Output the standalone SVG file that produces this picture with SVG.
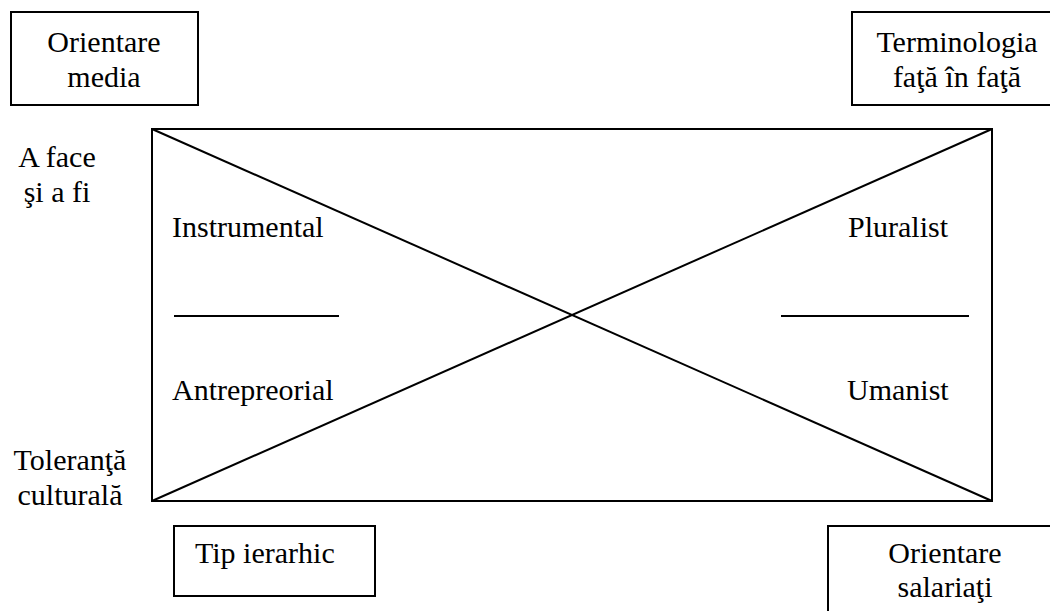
<svg xmlns="http://www.w3.org/2000/svg" width="1050" height="611" viewBox="0 0 1050 611">
  <style>
    .box { fill: #fff; stroke: #000; stroke-width: 2; }
    .ln { stroke: #000; stroke-width: 2; fill: none; }
    text { font-family: "Liberation Serif", "Times New Roman", serif; font-size: 30px; fill: #000; }
    .c { text-anchor: middle; }
  </style>
  <rect width="1050" height="611" fill="#fff"/>

  <!-- main frame with its two diagonals -->
  <g id="connectors">
    <rect class="ln" x="152" y="129" width="840" height="372"/>
    <line class="ln" x1="152" y1="129" x2="992" y2="501"/>
    <line class="ln" x1="152" y1="501" x2="992" y2="129"/>
    <line class="ln" x1="174" y1="316" x2="339" y2="316"/>
    <line class="ln" x1="781" y1="316" x2="969" y2="316"/>
  </g>

  <g id="orientare-media">
    <rect class="box" x="11" y="12" width="187" height="93"/>
    <text class="c" x="104" y="52">Orientare</text>
    <text class="c" x="104" y="87">media</text>
  </g>

  <g id="terminologia">
    <rect class="box" x="852" y="12" width="210" height="93"/>
    <text class="c" x="957" y="52">Terminologia</text>
    <text class="c" x="957" y="87">faţă în faţă</text>
  </g>

  <g id="a-face">
    <text class="c" x="57" y="167">A face</text>
    <text class="c" x="57" y="202">şi a fi</text>
  </g>

  <g id="toleranta">
    <text class="c" x="70" y="470">Toleranţă</text>
    <text class="c" x="70" y="505">culturală</text>
  </g>

  <g id="instrumental"><text x="172" y="237">Instrumental</text></g>
  <g id="antrepreorial"><text x="172" y="400">Antrepreorial</text></g>
  <g id="pluralist"><text x="848" y="237">Pluralist</text></g>
  <g id="umanist"><text x="847" y="400">Umanist</text></g>

  <g id="tip-ierarhic">
    <rect class="box" x="174" y="526" width="201" height="70"/>
    <text x="195" y="563">Tip ierarhic</text>
  </g>

  <g id="orientare-salariati">
    <rect class="box" x="828" y="526" width="230" height="95"/>
    <text class="c" x="945" y="563">Orientare</text>
    <text class="c" x="945" y="597">salariaţi</text>
  </g>
</svg>
